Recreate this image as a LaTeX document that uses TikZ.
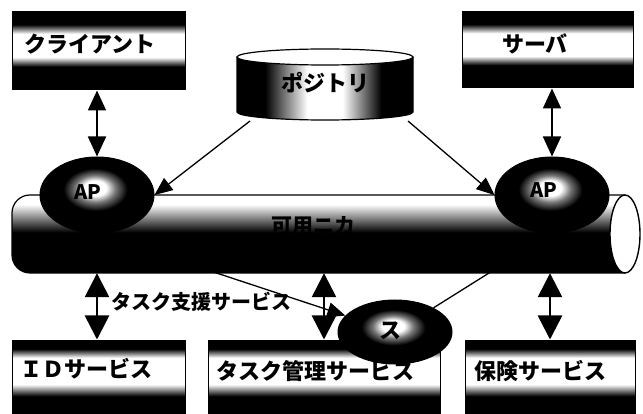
\documentclass[tikz,border=0pt]{standalone}
\usepackage{fontspec}
\newfontfamily\jp{Noto Sans CJK JP}
\usetikzlibrary{arrows.meta,shapes.geometric}
\pgfdeclarelayer{back}\pgfdeclarelayer{bg}
\pgfsetlayers{back,bg,main}
\pgfdeclareverticalshading{topband}{100bp}{color(0bp)=(black); color(40bp)=(black); color(46bp)=(white); color(61bp)=(white); color(67bp)=(black); color(100bp)=(black)}
\pgfdeclareverticalshading{botband}{100bp}{color(0bp)=(black); color(37bp)=(black); color(45bp)=(white); color(63bp)=(white); color(69bp)=(black); color(100bp)=(black)}
\pgfdeclarehorizontalshading{cylsh}{100bp}{color(0bp)=(black); color(33bp)=(black); color(45bp)=(white); color(55bp)=(white); color(66bp)=(black); color(100bp)=(black)}
\pgfdeclareverticalshading{pipesh}{100bp}{color(0bp)=(black); color(51bp)=(black); color(69bp)=(white); color(100bp)=(white)}
\pgfdeclareradialshading{apsh}{\pgfpoint{-1bp}{5bp}}{color(0bp)=(white); color(5bp)=(white); color(9bp)=(black!55); color(14bp)=(black); color(50bp)=(black)}
\tikzset{
  boxT/.style={rectangle, inner sep=0pt, shading=topband, draw=black, line width=1pt},
  boxB/.style={rectangle, inner sep=0pt, shading=botband, draw=black, line width=1pt},
  apnode/.style={ellipse, inner sep=0pt, shading=apsh, draw=black, line width=1pt},
  lbl/.style={font=\jp\bfseries\fontsize{22}{24}\selectfont, inner sep=0pt},
  thin arrow/.style={line width=1.3pt, -{Triangle[width=15pt,length=18pt]}},
  dbl top/.style={line width=1.8pt, {Triangle[width=18pt,length=20pt]}-{Triangle[width=18pt,length=20pt]}},
  dbl bot/.style={line width=2.6pt, {Triangle[width=24pt,length=24pt]}-{Triangle[width=24pt,length=24pt]}},
  link/.style={line width=1.3pt},
  outline/.style={line width=1.2pt},
}
\begin{document}
\begin{tikzpicture}[x=1pt,y=-1pt]
\useasboundingbox (0,0) rectangle (643,414);
\begin{pgfonlayer}{back}\fill[white] (0,0) rectangle (643,414);\end{pgfonlayer}

% repository cylinder
\path[shading=cylsh] (237,57) -- (237,112) arc[start angle=180,end angle=0,x radius=88,y radius=8] -- (413,57) -- cycle;
\draw[outline] (237,57) -- (237,112) arc[start angle=180,end angle=0,x radius=88,y radius=8] -- (413,57);
\draw[outline, fill=white] (325,57) ellipse[x radius=88, y radius=8];
\node[inner sep=0pt, minimum width=176pt, minimum height=63pt] (rep) at (325,88.5) {};
\node[lbl] (reptxt) at (325,83) {ポジトリ};
\coordinate (repL) at (250,121);
\coordinate (repR) at (408,121);

% pipe
\path[shading=pipesh] (625,195) -- (30,195) arc[start angle=270,end angle=180,radius=18] -- (12,255) arc[start angle=180,end angle=90,radius=18] -- (625,273) -- cycle;
\draw[outline] (625,195) -- (30,195) arc[start angle=270,end angle=180,radius=18] -- (12,255) arc[start angle=180,end angle=90,radius=18] -- (625,273);
\draw[line width=1.4pt, fill=white] (625,234) ellipse[x radius=15, y radius=39];
\node[inner sep=0pt, minimum width=613pt, minimum height=78pt] (pipe) at (318.5,234) {};
\node[lbl, font=\jp\bfseries\fontsize{21}{23}\selectfont] (pipetxt) at (313,226) {可用ニカ};

% AP ellipses
\node[apnode, minimum width=114pt, minimum height=76pt] (apL) at (97,195) {};
\node[lbl, font=\jp\bfseries\fontsize{20}{22}\selectfont] (apLt) at (88,192) {AP};
\node[apnode, minimum width=114pt, minimum height=76pt] (apR) at (552,195) {};
\node[lbl, font=\jp\bfseries\fontsize{20}{22}\selectfont] (apRt) at (544,190) {AP};

\draw[thin arrow] (repL) -- (apL.east);
\draw[thin arrow] (repR) -- (apR.west);

% top boxes
\node[boxT, minimum width=173pt, minimum height=78pt] (cl) at (98.5,51) {};
\node[lbl] (clt) at (90,44) {クライアント};
\node[boxT, minimum width=171pt, minimum height=76pt] (sv) at (547.5,50) {};
\node[lbl] (svt) at (535,44) {サーバ};
\draw[dbl top] (apL.north |- cl.south) -- (apL.north);
\draw[dbl top] (apR.north |- sv.south) -- (apR.north);

% bottom boxes
\node[boxB, minimum width=173pt, minimum height=74pt] (id) at (98.5,377) {};
\node[lbl] (idt) at (86,369) {ＩＤサービス};
\node[boxB, minimum width=232pt, minimum height=74pt] (tm) at (324,377) {};
\node[lbl] (tmt) at (315,371) {タスク管理サービス};
\node[boxB, minimum width=170pt, minimum height=74pt] (hk) at (550,377) {};
\node[lbl] (hkt) at (540,371) {保険サービス};

\draw[dbl bot] (apL.south |- pipe.south) -- (apL.south |- id.north);
\draw[dbl bot] (tm.north |- pipe.south) -- (tm.north);
\draw[dbl bot] (hk.north |- pipe.south) -- (hk.north);

\node[font=\jp\bfseries\fontsize{20}{22}\selectfont, inner sep=0pt] (sup) at (201,302) {タスク支援サービス};

% task ellipse
\node[apnode, minimum width=114pt, minimum height=64pt] (tk) at (395,332) {};
\node[lbl] (tkt) at (390,331) {ス};

\begin{pgfonlayer}{bg}
\draw[thin arrow] (apL.south) -- (tk);
\draw[link] (apR.south) -- (tk);
\end{pgfonlayer}
\end{tikzpicture}
\end{document}
